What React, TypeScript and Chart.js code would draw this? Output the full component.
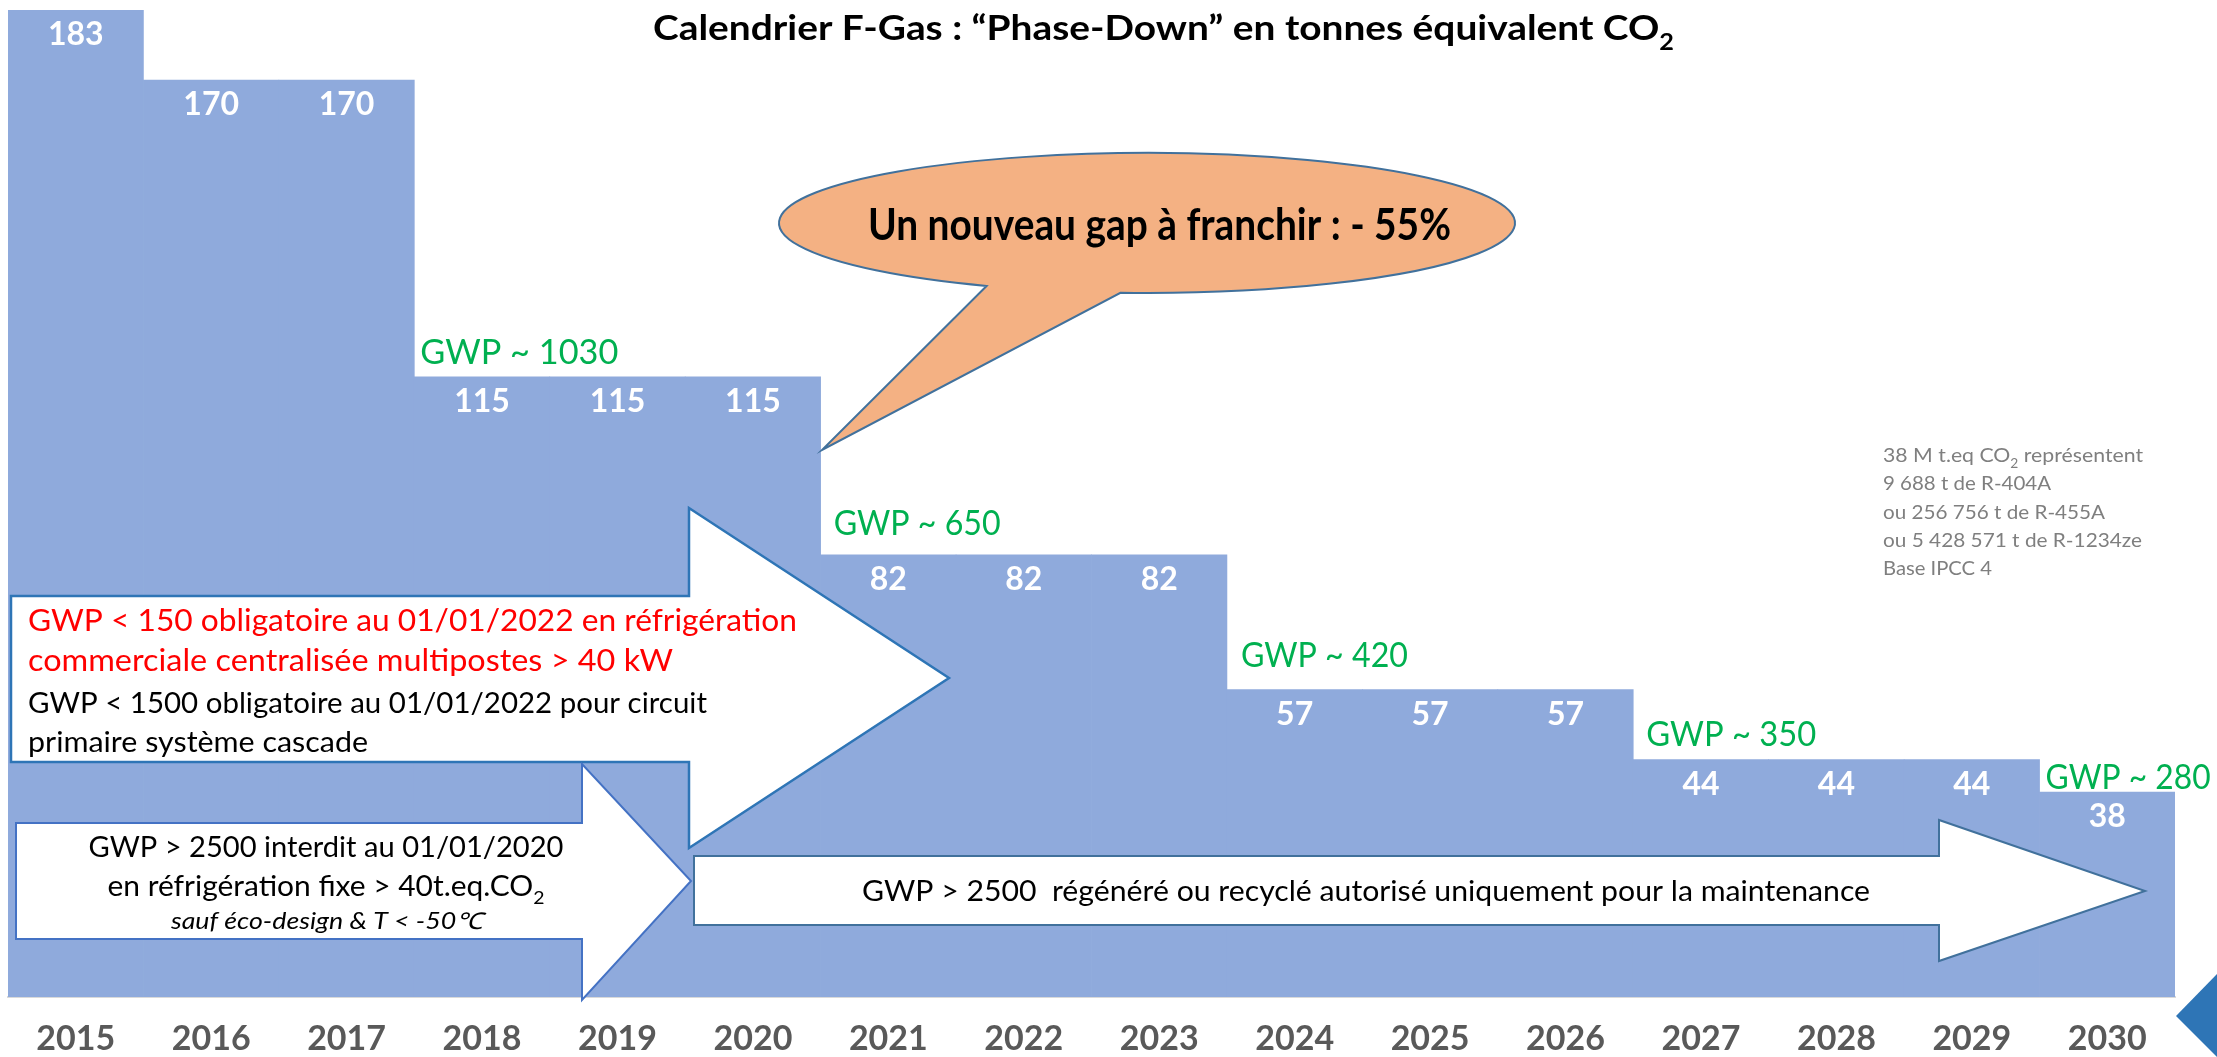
import { useEffect, useRef } from "react";
import { Chart, registerables } from "chart.js";

Chart.register(...registerables);

// ---------- data ----------
const years = ["2015", "2016", "2017", "2018", "2019", "2020", "2021", "2022", "2023", "2024", "2025", "2026", "2027", "2028", "2029", "2030"];
const quotas = [183, 170, 170, 115, 115, 115, 82, 82, 82, 57, 57, 57, 44, 44, 44, 38];
const gwpYearIndex = [3, 6, 9, 12, 15];
const gwpLabels = ["GWP ~ 1030", "GWP ~ 650", "GWP ~ 420", "GWP ~ 350", "GWP ~ 280"];

const titleMain = "Calendrier F-Gas : “Phase-Down” en tonnes équivalent CO";
const calloutText = "Un nouveau gap à franchir : - 55%";
const redLines = ["GWP < 150 obligatoire au 01/01/2022 en réfrigération", "commerciale centralisée multipostes > 40 kW"];
const blackLines = ["GWP < 1500 obligatoire au 01/01/2022 pour circuit", "primaire système cascade"];
const ban2020Lines = ["GWP > 2500 interdit au 01/01/2020", "en réfrigération fixe > 40t.eq.CO"];
const ban2020Note = "sauf éco-design & T < -50℃";
const maintenanceText = "GWP > 2500  régénéré ou recyclé autorisé uniquement pour la maintenance";
const noteLines = ["38 M t.eq CO", "9 688 t de R-404A", "ou 256 756 t de R-455A", "ou 5 428 571 t de R-1234ze", "Base IPCC 4"];

// ---------- layout / style (not data) ----------
const FONT = "Lato, 'Open Sans', sans-serif";
const W = 2217;
const H = 1057;
const BAR = "#8FAADC";
const GREEN = "#00B050";
const gwpDx = [6, 13, 14, 13, 6];
const gwpDy = [13, 20, 23, 14, 3];
const gwpW = [198, 167, 167, 170, 165];

type Seg = { t: string; sub?: boolean };
type TOpts = { weight?: string; italic?: boolean; color: string; align?: "left" | "center"; width?: number };

function drawSegs(ctx: CanvasRenderingContext2D, segs: Seg[], x: number, baseline: number, size: number, o: TOpts) {
  const font = (sub?: boolean) => `${o.italic ? "italic " : ""}${o.weight ?? "normal"} ${sub ? size * 0.65 : size}px ${FONT}`;
  const ws = segs.map((s) => {
    ctx.font = font(s.sub);
    return ctx.measureText(s.t).width;
  });
  const natural = ws.reduce((a, b) => a + b, 0);
  const sx = o.width ? o.width / natural : 1;
  const total = natural * sx;
  const x0 = o.align === "center" ? x - total / 2 : x;
  ctx.save();
  ctx.translate(x0, baseline);
  ctx.scale(sx, 1);
  ctx.fillStyle = o.color;
  ctx.textAlign = "left";
  ctx.textBaseline = "alphabetic";
  let cx = 0;
  segs.forEach((s, i) => {
    ctx.font = font(s.sub);
    ctx.fillText(s.t, cx, s.sub ? size * 0.3 : 0);
    cx += ws[i];
  });
  ctx.restore();
}

type Arrow = { x0: number; x1: number; bt: number; bb: number; ht: number; hb: number; tx: number; ty: number; stroke: string; lw: number };

function drawArrow(ctx: CanvasRenderingContext2D, a: Arrow) {
  ctx.save();
  ctx.beginPath();
  ctx.moveTo(a.x0, a.bt);
  ctx.lineTo(a.x1, a.bt);
  ctx.lineTo(a.x1, a.ht);
  ctx.lineTo(a.tx, a.ty);
  ctx.lineTo(a.x1, a.hb);
  ctx.lineTo(a.x1, a.bb);
  ctx.lineTo(a.x0, a.bb);
  ctx.closePath();
  ctx.fillStyle = "#FFFFFF";
  ctx.fill();
  ctx.lineWidth = a.lw;
  ctx.strokeStyle = a.stroke;
  ctx.lineJoin = "miter";
  ctx.stroke();
  ctx.restore();
}

const arrow1: Arrow = { x0: 11, x1: 689, bt: 596, bb: 762, ht: 508, hb: 848, tx: 949, ty: 678, stroke: "#2E75B6", lw: 2.5 };
const arrow2: Arrow = { x0: 16, x1: 582, bt: 823, bb: 939, ht: 764, hb: 1000, tx: 691, ty: 881, stroke: "#4472C4", lw: 2 };
const arrow3: Arrow = { x0: 694, x1: 1939, bt: 856, bb: 925, ht: 820, hb: 961, tx: 2145, ty: 891, stroke: "#41719C", lw: 2 };

function drawCallout(ctx: CanvasRenderingContext2D) {
  const cx = 1147, cy = 223, rx = 368, ry = 70;
  const ang = (px: number, py: number) => Math.atan2((py - cy) / ry, (px - cx) / rx);
  const tRight = ang(1120, 294);
  const tLeft = ang(984, 287);
  ctx.save();
  ctx.beginPath();
  ctx.ellipse(cx, cy, rx, ry, 0, tLeft, tRight + Math.PI * 2, false);
  ctx.lineTo(822, 450);
  ctx.closePath();
  ctx.fillStyle = "#F4B183";
  ctx.fill();
  ctx.lineWidth = 2;
  ctx.strokeStyle = "#41719C";
  ctx.lineJoin = "miter";
  ctx.stroke();
  ctx.restore();
}

const overlayPlugin = {
  id: "fgasOverlay",
  afterDatasetsDraw(chart: any) {
    const ctx: CanvasRenderingContext2D = chart.ctx;
    const meta = chart.getDatasetMeta(0);

    // arrows & callout
    drawArrow(ctx, arrow1);
    drawArrow(ctx, arrow2);
    drawArrow(ctx, arrow3);
    drawCallout(ctx);

    // decorative corner shape
    ctx.save();
    ctx.beginPath();
    ctx.moveTo(2176, 1016);
    ctx.lineTo(2217, 974);
    ctx.lineTo(2217, 1057);
    ctx.closePath();
    ctx.fillStyle = "#2E75B6";
    ctx.fill();
    ctx.restore();

    // value labels inside bars
    meta.data.forEach((bar: any, i: number) => {
      ctx.save();
      ctx.font = `bold 32px ${FONT}`;
      ctx.fillStyle = "#FFFFFF";
      ctx.textAlign = "center";
      ctx.textBaseline = "alphabetic";
      ctx.fillText(String(quotas[i]), bar.x, bar.y + 35);
      ctx.restore();
    });

    // GWP labels above each step
    gwpYearIndex.forEach((idx, k) => {
      const bar: any = meta.data[idx];
      const left = bar.x - bar.width / 2;
      drawSegs(ctx, [{ t: gwpLabels[k] }], left + gwpDx[k], bar.y - gwpDy[k], 35, { color: GREEN, width: gwpW[k] });
    });

    // title
    drawSegs(ctx, [{ t: titleMain }, { t: "2", sub: true }], 653, 40, 34, { weight: "bold", color: "#000", width: 1021 });

    // callout text
    drawSegs(ctx, [{ t: calloutText }], 868, 240, 44, { weight: "bold", color: "#000", width: 583 });

    // arrow 1 texts
    drawSegs(ctx, [{ t: redLines[0] }], 28, 631, 30, { color: "#FF0000", width: 769 });
    drawSegs(ctx, [{ t: redLines[1] }], 28, 671, 30, { color: "#FF0000", width: 645 });
    drawSegs(ctx, [{ t: blackLines[0] }], 28, 713, 29, { color: "#000", width: 679 });
    drawSegs(ctx, [{ t: blackLines[1] }], 28, 752, 29, { color: "#000", width: 340 });

    // arrow 2 texts
    drawSegs(ctx, [{ t: ban2020Lines[0] }], 326, 857, 28, { color: "#000", align: "center", width: 475 });
    drawSegs(ctx, [{ t: ban2020Lines[1] }, { t: "2", sub: true }], 326, 896, 28, { color: "#000", align: "center", width: 437 });
    drawSegs(ctx, [{ t: ban2020Note }], 327, 929, 23, { color: "#000", italic: true, align: "center", width: 312 });

    // arrow 3 text
    drawSegs(ctx, [{ t: maintenanceText }], 862, 901, 28, { color: "#000", width: 1008 });

    // side note
    const noteW = [260, 168, 222, 259, 109];
    noteLines.forEach((line, i) => {
      const segs: Seg[] = i === 0 ? [{ t: line }, { t: "2", sub: true }, { t: " représentent" }] : [{ t: line }];
      drawSegs(ctx, segs, 1883, 462 + i * 28.3, 20, { color: "#7F7F7F", width: noteW[i] });
    });
  },
};

export default function App() {
  const ref = useRef<HTMLCanvasElement>(null);

  useEffect(() => {
    document.body.style.margin = "0";
    document.body.style.overflow = "hidden";
    if (!ref.current) return;
    const chart = new Chart(ref.current, {
      type: "bar",
      data: {
        labels: years,
        datasets: [
          {
            data: quotas,
            backgroundColor: BAR,
            borderWidth: 0,
            barPercentage: 1,
            categoryPercentage: 1,
          },
        ],
      },
      options: {
        responsive: false,
        animation: false,
        devicePixelRatio: 1,
        layout: { padding: { left: 8, right: 42, top: 10, bottom: 0 } },
        plugins: { legend: { display: false }, tooltip: { enabled: false }, title: { display: false } },
        scales: {
          x: {
            grid: { display: false },
            border: { display: true, color: "#D9D9D9", width: 2 },
            ticks: {
              autoSkip: false,
              maxRotation: 0,
              padding: 14,
              color: "#595959",
              font: { family: FONT, size: 34, weight: "bold" },
            },
            afterFit: (s: any) => {
              s.height = 60;
            },
          },
          y: { display: false, min: 0, max: 183 },
        },
      },
      plugins: [overlayPlugin],
    });
    return () => chart.destroy();
  }, []);

  return (
    <div style={{ width: W, height: H }}>
      <canvas ref={ref} width={W} height={H} style={{ display: "block", width: W, height: H }} />
    </div>
  );
}
